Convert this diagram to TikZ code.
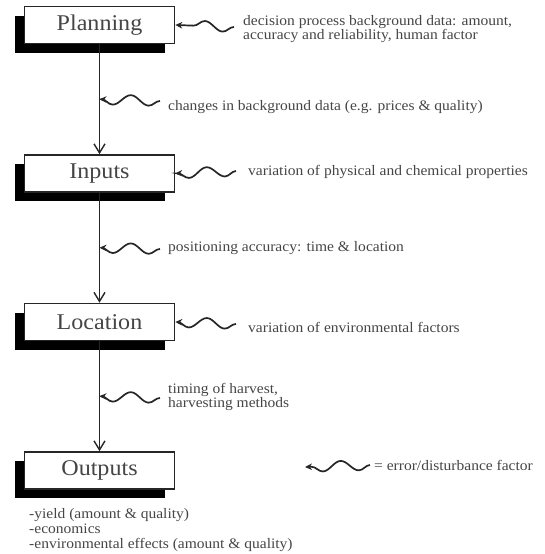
\documentclass[tikz,border=0pt]{standalone}
\usepackage{fontspec}
\setmainfont[FakeStretch=1.07]{Liberation Serif}
\usetikzlibrary{arrows.meta,shadows,decorations.pathmorphing,calc}
\definecolor{ink}{HTML}{262626}
\definecolor{txt}{HTML}{454545}
\begin{document}
\begin{tikzpicture}[x=1pt,y=-1pt,
  stage/.style={draw=ink,line width=1.6pt,fill=white,minimum width=150pt,
    minimum height=37pt,inner sep=0pt,text=txt,
    font=\fontsize{22.5}{24}\selectfont,
    drop shadow={shadow xshift=-10pt,shadow yshift=-9pt,fill=black,opacity=1}},
  flow/.style={draw=ink,line width=1.5pt,-{Straight Barb[length=9pt,width=11pt,line width=1.4pt]}},
  errwave/.style={draw=ink,line width=1.7pt,decorate,
    decoration={snake,amplitude=5pt,segment length=36pt,post length=1.5pt},
    -{Stealth[length=7pt,width=6.5pt]}},
  note/.style={anchor=west,align=left,inner sep=0pt,text=txt,
    font=\fontsize{14.5}{14.7}\selectfont}]
\useasboundingbox (0,0) rectangle (544,554);

% process stages
\node[stage] (plan) at (99.5,25)    {Planning};
\node[stage] (inp)  at (99.5,173.5) {Inputs};
\node[stage] (loc)  at (99.5,322)   {Location};
\node[stage] (out)  at (99.5,470.5) {Outputs};

% main flow
\draw[flow] (plan) -- (inp);
\draw[flow] (inp) -- (loc);
\draw[flow] (loc) -- (out);

% points on the flow where disturbances act
\coordinate (m1) at ($(plan.south)!0.5!(inp.north)$);
\coordinate (m2) at ($(inp.south)!0.5!(loc.north)$);
\coordinate (m3) at ($(loc.south)!0.5!(out.north)$);

% free ends of the disturbance waves
\coordinate (w1) at (234,27);
\coordinate (w2) at (160,101);
\coordinate (w3) at (236,171);
\coordinate (w4) at (160,249);
\coordinate (w5) at (236,324);
\coordinate (w6) at (160,398);
\coordinate (lgs) at (370,465);
\coordinate (lge) at (305,467);

\draw[errwave] (w1) -- (plan.east);
\draw[errwave] (w2) -- (m1);
\draw[errwave] (w3) -- (inp.east);
\draw[errwave] (w4) -- (m2);
\draw[errwave] (w5) -- (loc.east);
\draw[errwave] (w6) -- (m3);
\draw[errwave] (lgs) -- (lge);

% disturbance descriptions
\node[note] (t1) at (243,29) {decision process background data: amount,\\accuracy and reliability, human factor};
\node[note] (t2) at (168,107) {changes in background data (e.g. prices \& quality)};
\node[note] (t3) at (248,172) {variation of physical and chemical properties};
\node[note] (t4) at (168,248) {positioning accuracy: time \& location};
\node[note] (t5) at (248,327) {variation of environmental factors};
\node[note] (t6) at (168,397) {timing of harvest,\\harvesting methods};
\node[note] (lg) at (374,465) {= error/disturbance factor};

% outputs
\node[note] (res) at (29,530) {-yield (amount \& quality)\\-economics\\-environmental effects (amount \& quality)};
\end{tikzpicture}
\end{document}
